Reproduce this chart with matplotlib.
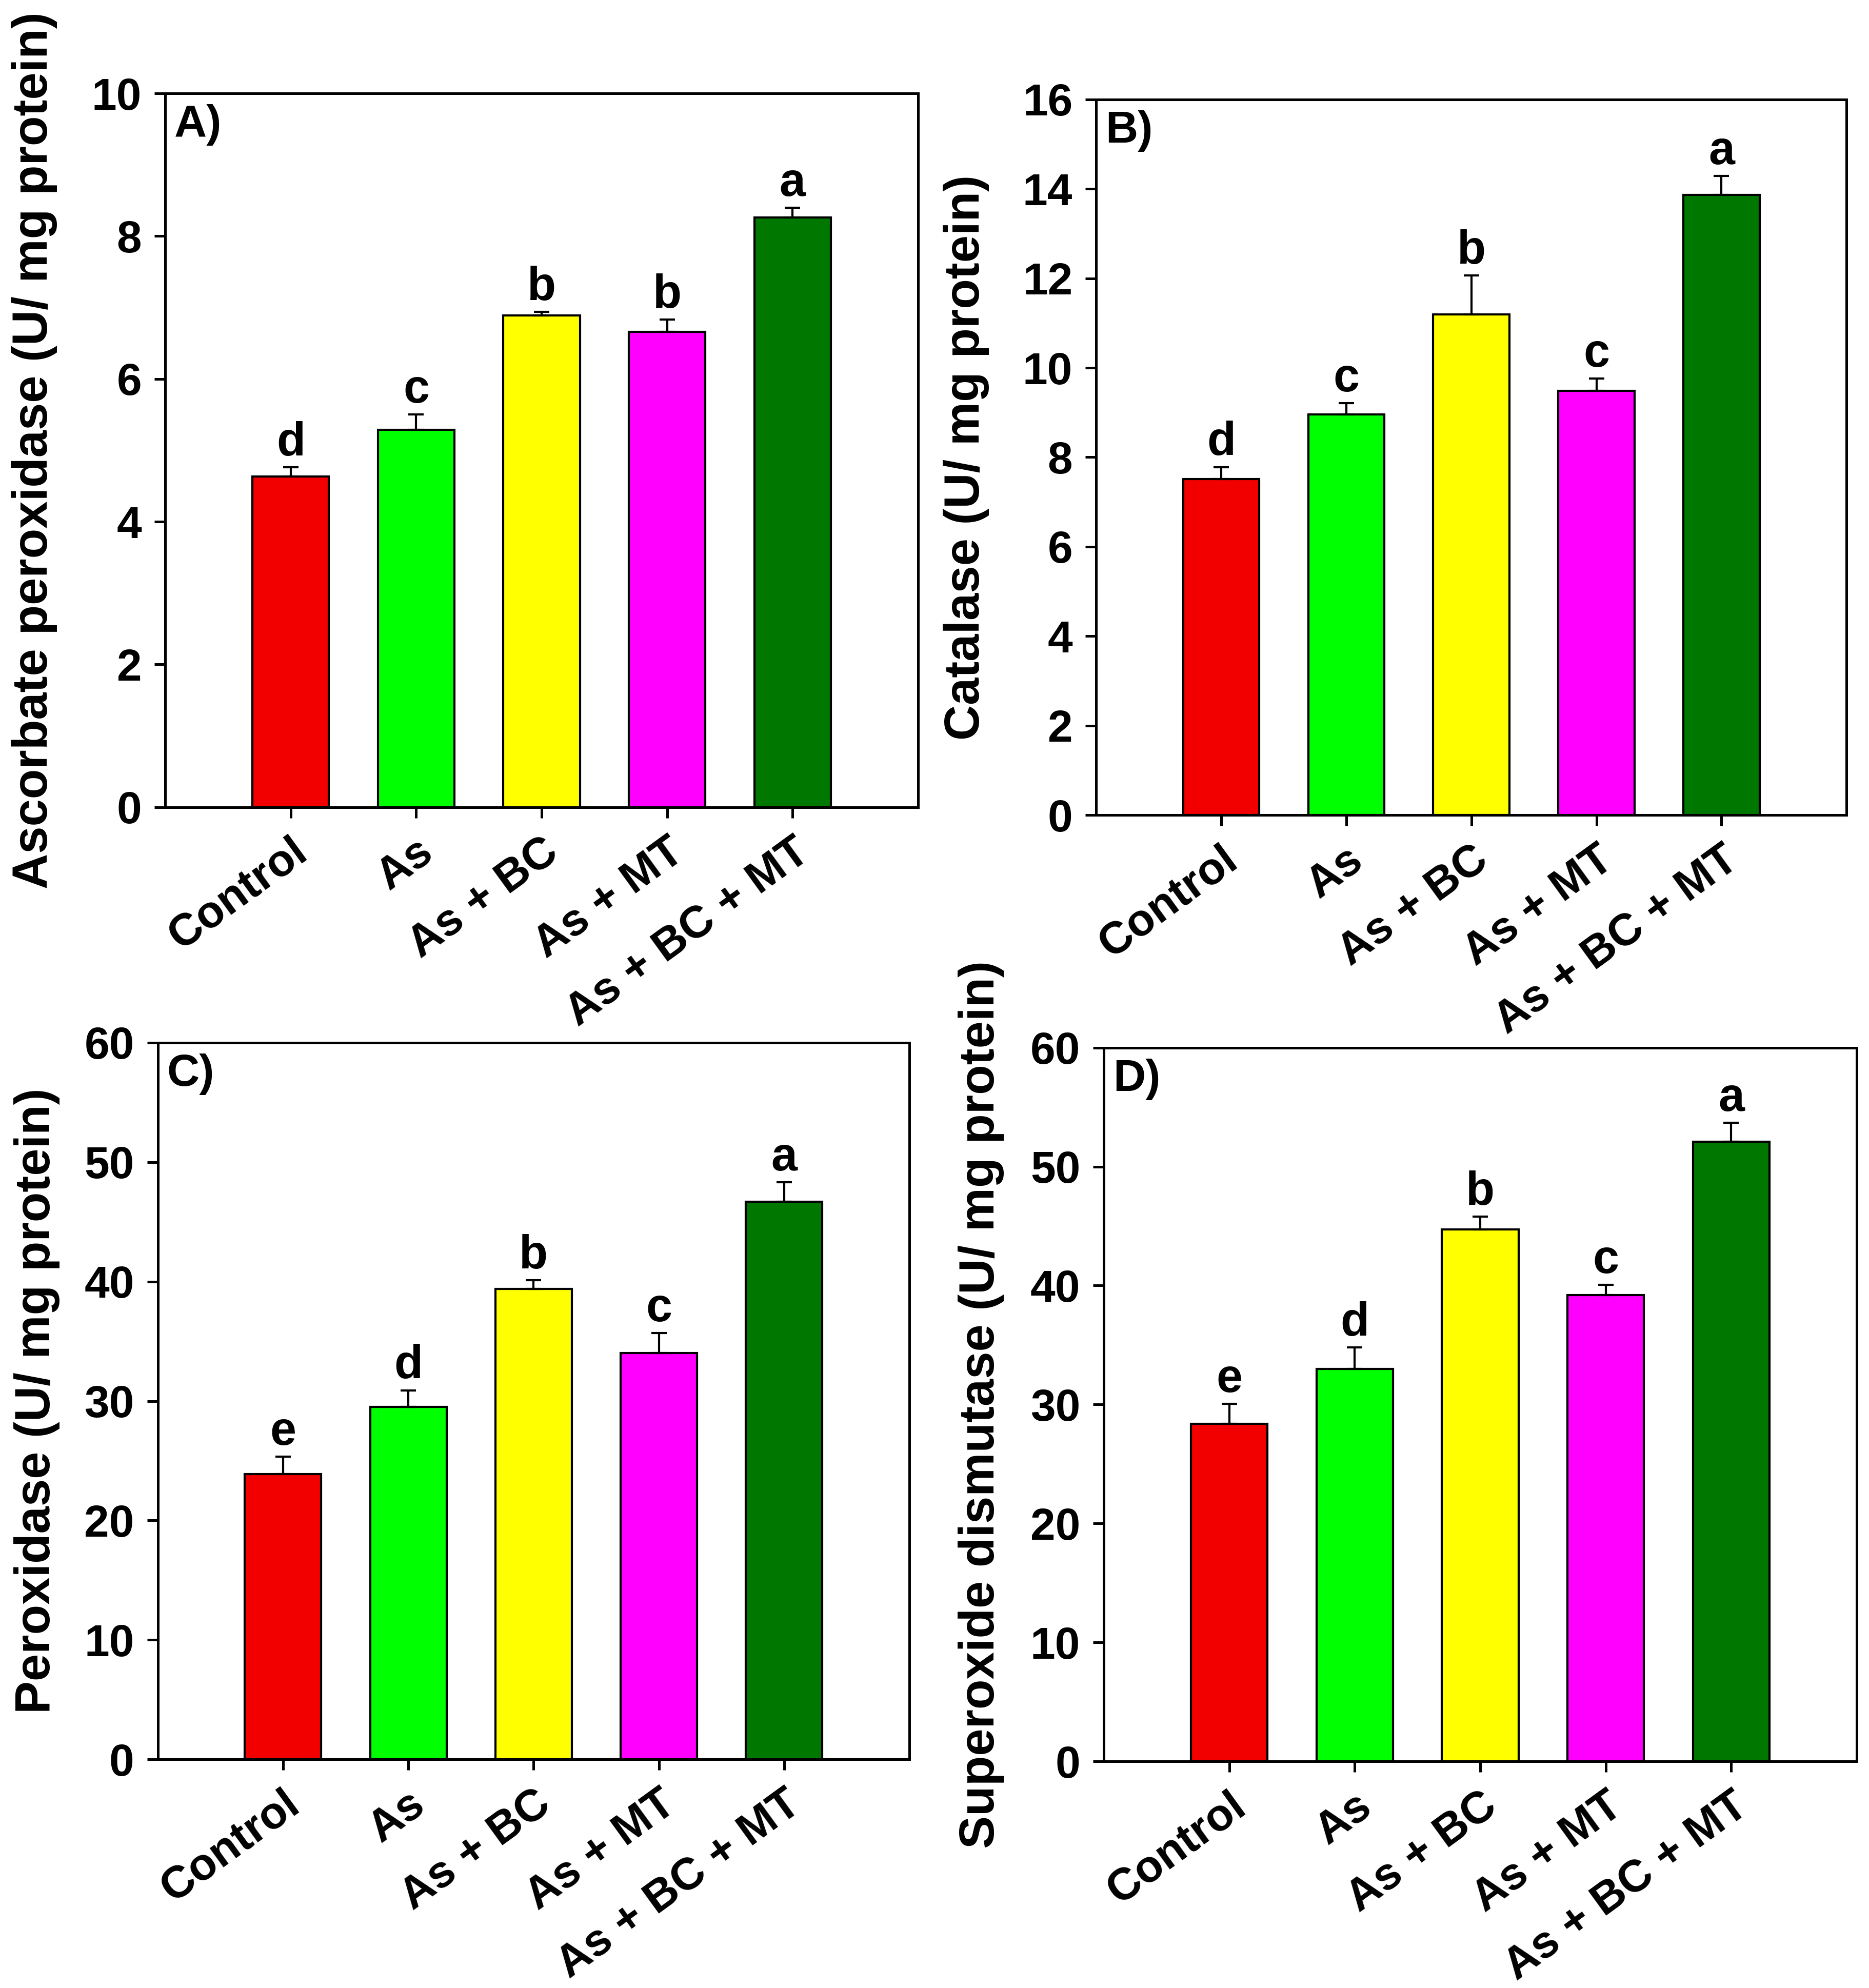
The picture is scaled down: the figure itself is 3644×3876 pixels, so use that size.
import matplotlib
matplotlib.use("Agg")
import matplotlib.pyplot as plt
import numpy as np

plt.rcParams['font.family'] = ['Liberation Sans', 'DejaVu Sans']
plt.rcParams['font.weight'] = 'bold'

categories = ["Control", "As", "As + BC", "As + MT", "As + BC + MT"]
colors = ["#F20000", "#00FF00", "#FFFF00", "#FF00FF", "#007800"]

apx_mean = [4.63, 5.29, 6.89, 6.66, 8.26]
apx_err = [0.13, 0.21, 0.05, 0.17, 0.14]
apx_letters = ["d", "c", "b", "b", "a"]

cat_mean = [7.51, 8.96, 11.19, 9.48, 13.87]
cat_err = [0.27, 0.25, 0.87, 0.28, 0.42]
cat_letters = ["d", "c", "b", "c", "a"]

pod_mean = [23.9, 29.5, 39.4, 34.0, 46.7]
pod_err = [1.45, 1.4, 0.7, 1.7, 1.6]
pod_letters = ["e", "d", "b", "c", "a"]

sod_mean = [28.4, 33.0, 44.7, 39.2, 52.1]
sod_err = [1.65, 1.8, 1.1, 0.85, 1.6]
sod_letters = ["e", "d", "b", "c", "a"]

panels = [
    dict(mean=apx_mean, err=apx_err, letters=apx_letters, label="A)",
         ylabel="Ascorbate peroxidase (U/ mg protein)", ylim=10, step=2,
         rect=[0.0884, 0.594, 0.4028, 0.359], labx=-0.143),
    dict(mean=cat_mean, err=cat_err, letters=cat_letters, label="B)",
         ylabel="Catalase (U/ mg protein)", ylim=16, step=2,
         rect=[0.5865, 0.590, 0.4015, 0.360], labx=-0.142),
    dict(mean=pod_mean, err=pod_err, letters=pod_letters, label="C)",
         ylabel="Peroxidase (U/ mg protein)", ylim=60, step=10,
         rect=[0.0844, 0.115, 0.4022, 0.3605], labx=-0.130),
    dict(mean=sod_mean, err=sod_err, letters=sod_letters, label="D)",
         ylabel="Superoxide dismutase (U/ mg protein)", ylim=60, step=10,
         rect=[0.5906, 0.114, 0.4028, 0.359], labx=-0.132),
]

fig = plt.figure(figsize=(3644 / 300, 3876 / 300), dpi=300)
FS_TICK = 21
FS_LAB = 23
FS_LET = 22
x = np.arange(1, len(categories) + 1)

for p in panels:
    ax = fig.add_axes(p["rect"])
    ax.bar(x, p["mean"], width=0.61, color=colors, edgecolor="black",
           linewidth=1.0, zorder=2)
    ax.errorbar(x, p["mean"], yerr=[np.zeros(len(x)), p["err"]], fmt="none",
                ecolor="black", elinewidth=1.0, capsize=3.6, capthick=1.0,
                zorder=3)
    for xi, m, e, lt in zip(x, p["mean"], p["err"], p["letters"]):
        ax.annotate(lt, (xi, m + e), xytext=(0, 1.0), textcoords="offset points",
                    ha="center", va="bottom", fontsize=FS_LET, fontweight="bold")
    ax.set_xlim(0, 6)
    ax.set_ylim(0, p["ylim"])
    ticks = np.arange(0, p["ylim"] + 0.1, p["step"])
    ax.set_yticks(ticks)
    ax.set_yticklabels([f"{int(v)}" for v in ticks],
                       fontsize=FS_TICK, fontweight="bold")
    ax.set_xticks(x)
    ax.set_xticklabels(categories, rotation=36, ha="right", va="top",
                       rotation_mode="anchor", fontsize=FS_TICK, fontweight="bold")
    ax.tick_params(axis="both", direction="out", length=5, width=1.2,
                   top=False, right=False, pad=6)
    for s in ax.spines.values():
        s.set_linewidth(1.2)
    ax.set_ylabel(p["ylabel"], fontsize=FS_LAB, fontweight="bold")
    ax.yaxis.set_label_coords(p["labx"], 0.5)
    ax.text(0.012, 0.985, p["label"], transform=ax.transAxes, ha="left",
            va="top", fontsize=FS_TICK, fontweight="bold")

fig.savefig("out.png", dpi=300)
